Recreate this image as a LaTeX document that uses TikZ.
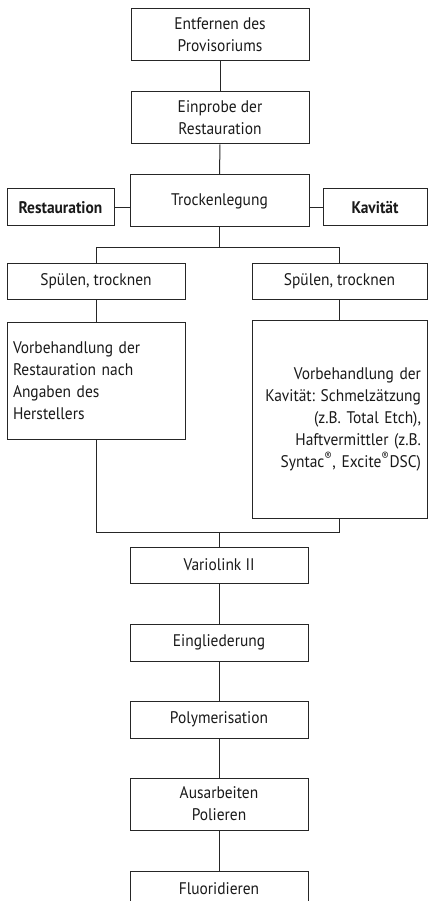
\documentclass[tikz,border=0pt]{standalone}
\usepackage{fontspec}
\setmainfont[FakeStretch=0.92]{PT Sans}
\frenchspacing
\begin{document}
\begin{tikzpicture}[x=1pt,y=-1pt,
  every node/.style={font=\fontsize{16.8}{22}\selectfont, text=black!90},
  box/.style={draw=black!85, line width=1pt, inner sep=0pt, align=center},
  conn/.style={draw=black!85, line width=1pt}]
\useasboundingbox (0,0) rectangle (428,901);
\node[box, minimum width=178, minimum height=52] (b1) at (220,35) {Entfernen des\\Provisoriums};
\node[box, minimum width=178, minimum height=52] (b2) at (220,118) {Einprobe der\\Restauration};
\node[box, minimum width=179, minimum height=52] (b3) at (219.5,201) {Trockenlegung};
\node[box, minimum width=107, minimum height=37, font=\fontsize{16.8}{22}\selectfont\bfseries] (rest) at (60.5,207.5) {Restauration};
\node[box, minimum width=104, minimum height=37, font=\fontsize{16.8}{22}\selectfont\bfseries] (kav) at (375,207.5) {Kavität};
\node[box, minimum width=178, minimum height=36] (sp1) at (96,281) {Spülen, trocknen};
\node[box, minimum width=175, minimum height=36] (sp2) at (339.5,281) {Spülen, trocknen};
\node[box, minimum height=117, inner xsep=6pt, text width=166pt, align=left] (v1) at (96,380.5) {Vorbehandlung der\\Restauration nach\\Angaben des\\Herstellers};
\node[box, minimum height=198, inner xsep=6pt, text width=163pt, align=right] (v2) at (339.5,419) {Vorbehandlung der\\Kavität: Schmelzätzung\\(z.B. Total Etch),\\Haftvermittler (z.B.\\Syntac\textsuperscript{®}, Excite\textsuperscript{®}DSC)};
\node[box, minimum width=178, minimum height=36] (vario) at (219,565) {Variolink II};
\node[box, minimum width=178, minimum height=37] (eing) at (219,642.5) {Eingliederung};
\node[box, minimum width=178, minimum height=37] (poly) at (219,719.5) {Polymerisation};
\node[box, minimum width=178, minimum height=52] (aus) at (219,804) {Ausarbeiten\\Polieren};
\node[box, minimum width=178, minimum height=36] (fluor) at (219,889) {Fluoridieren};
\coordinate (jt) at (219.5,247);
\coordinate (jb) at (219.5,532);
\draw[conn] (b1.south) -- (b2.north);
\draw[conn] (b2.south) -- (b3.north);
\draw[conn] (rest.east) -- (rest.east -| b3.west);
\draw[conn] (kav.west) -- (kav.west -| b3.east);
\draw[conn] (b3.south) -- (b3.south |- jt);
\draw[conn] (sp1.north) -- (sp1.north |- jt) -- (sp2.north |- jt) -- (sp2.north);
\draw[conn] (sp1.south) -- (v1.north -| sp1.south);
\draw[conn] (sp2.south) -- (v2.north -| sp2.south);
\draw[conn] (v1.south) -- (v1.south |- jb) -- (v2.south |- jb) -- (v2.south);
\draw[conn] (vario.north) -- (vario.north |- jb);
\draw[conn] (vario.south) -- (eing.north);
\draw[conn] (eing.south) -- (poly.north);
\draw[conn] (poly.south) -- (aus.north);
\draw[conn] (aus.south) -- (fluor.north);
\end{tikzpicture}
\end{document}
